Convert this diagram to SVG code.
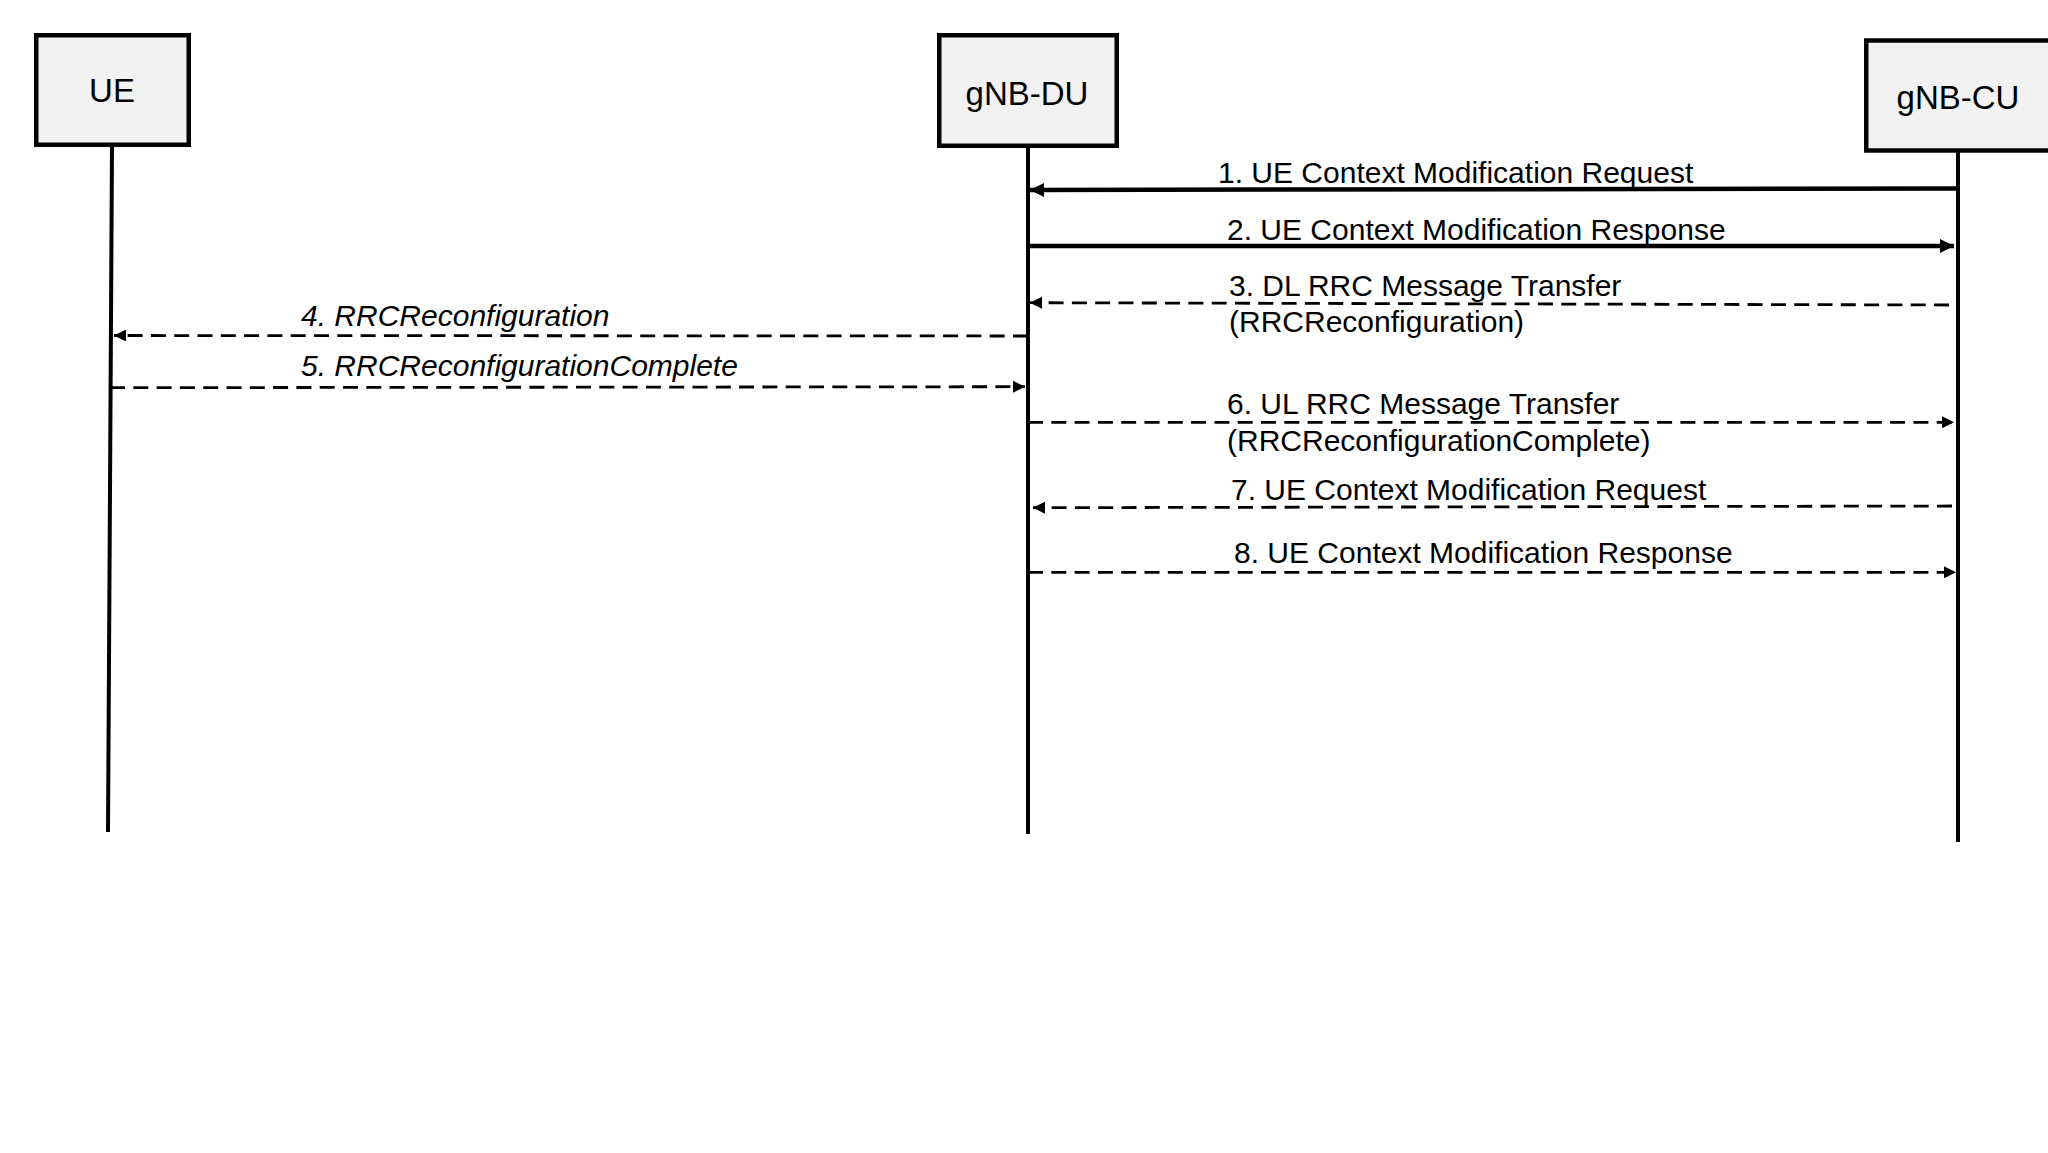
<svg xmlns="http://www.w3.org/2000/svg" width="2048" height="1153" viewBox="0 0 2048 1153">
<style>
.box{fill:#f2f2f2;stroke:#000;stroke-width:4.5}
.node{font-family:"Liberation Sans",Arial,sans-serif;font-size:33px;fill:#000;text-anchor:middle}
.lab{font-family:"Liberation Sans",Arial,sans-serif;font-size:30px;fill:#000}
.it{font-style:italic}
.life{stroke:#000;stroke-width:4;fill:none}
.solid{stroke:#000;stroke-width:4.5;fill:none;marker-end:url(#ahBig)}
.dash{stroke:#000;stroke-width:2.8;fill:none;stroke-dasharray:15 8.3;marker-end:url(#ahSmall)}
</style>
<defs>
<marker id="ahBig" viewBox="0 0 12 12" refX="12" refY="6" markerWidth="14" markerHeight="14" markerUnits="userSpaceOnUse" orient="auto">
<path d="M0,0 L12,6 L0,12 Z" fill="#000"/>
</marker>
<marker id="ahSmall" viewBox="0 0 12 12" refX="12" refY="6" markerWidth="12" markerHeight="12" markerUnits="userSpaceOnUse" orient="auto">
<path d="M0,0 L12,6 L0,12 Z" fill="#000"/>
</marker>
</defs>
<rect width="2048" height="1153" fill="#fff"/>
<g id="lifelines">
<line class="life" x1="112" y1="147" x2="108" y2="832"/>
<line class="life" x1="1028" y1="148" x2="1028" y2="834"/>
<line class="life" x1="1958" y1="152" x2="1958" y2="842"/>
</g>
<g id="UE">
<rect class="box" x="36.25" y="35.25" width="152.5" height="109.5"/>
<text class="node" x="112" y="102">UE</text>
</g>
<g id="gNB-DU">
<rect class="box" x="939.25" y="35.25" width="177.5" height="110.5"/>
<text class="node" x="1027" y="105">gNB-DU</text>
</g>
<g id="gNB-CU">
<rect class="box" x="1866.25" y="40.5" width="200" height="110"/>
<text class="node" x="1958" y="109">gNB-CU</text>
</g>
<g id="connectors">
<line class="solid" x1="1958" y1="188.5" x2="1030" y2="190"/>
<line class="solid" x1="1028" y1="246" x2="1954" y2="246"/>
<line class="dash" x1="1949" y1="305" x2="1030" y2="302.7"/>
<line class="dash" x1="1028" y1="336" x2="114" y2="335.5"/>
<line class="dash" x1="110" y1="387.7" x2="1025" y2="386.7"/>
<line class="dash" x1="1028" y1="422.3" x2="1954" y2="422.3"/>
<line class="dash" x1="1952" y1="506" x2="1033" y2="507.7"/>
<line class="dash" x1="1028" y1="572.3" x2="1956" y2="572.3"/>
</g>
<g id="labels">
<text class="lab" x="1218" y="183">1. UE Context Modification Request</text>
<text class="lab" x="1227" y="240">2. UE Context Modification Response</text>
<text class="lab" x="1229" y="296">3. DL RRC Message Transfer</text>
<text class="lab" x="1229" y="332">(RRCReconfiguration)</text>
<text class="lab it" x="301" y="326">4. RRCReconfiguration</text>
<text class="lab it" x="301" y="376">5. RRCReconfigurationComplete</text>
<text class="lab" x="1227" y="414">6. UL RRC Message Transfer</text>
<text class="lab" x="1227" y="451">(RRCReconfigurationComplete)</text>
<text class="lab" x="1231" y="500">7. UE Context Modification Request</text>
<text class="lab" x="1234" y="563">8. UE Context Modification Response</text>
</g>
</svg>
